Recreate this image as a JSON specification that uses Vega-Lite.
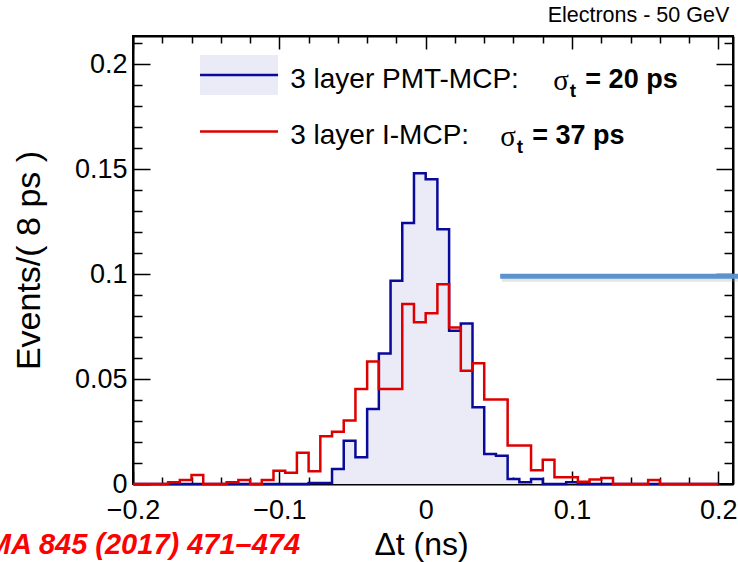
{
  "$schema": "https://vega.github.io/schema/vega-lite/v6.json",
  "width": 600,
  "height": 448,
  "autosize": "none",
  "padding": {"left": 133, "top": 36, "right": 5, "bottom": 78},
  "background": "white",
  "config": {"view": {"stroke": "black", "strokeWidth": 2}, "font": "Liberation Sans"},
  "title": {"text": "Electrons - 50 GeV", "anchor": "end", "fontSize": 21.5, "fontWeight": "normal", "font": "Liberation Sans", "color": "black", "offset": 3, "dx": -15},
  "datasets": {
    "hist": [
      {"s": "PMT", "x": -0.2, "v": 0}, {"s": "PMT", "x": -0.192, "v": 0}, {"s": "PMT", "x": -0.184, "v": 0}, {"s": "PMT", "x": -0.176, "v": 0},
      {"s": "PMT", "x": -0.168, "v": 0}, {"s": "PMT", "x": -0.16, "v": 0}, {"s": "PMT", "x": -0.152, "v": 0}, {"s": "PMT", "x": -0.144, "v": 0},
      {"s": "PMT", "x": -0.136, "v": 0}, {"s": "PMT", "x": -0.128, "v": 0}, {"s": "PMT", "x": -0.12, "v": 0}, {"s": "PMT", "x": -0.112, "v": 0},
      {"s": "PMT", "x": -0.104, "v": 0}, {"s": "PMT", "x": -0.096, "v": 0}, {"s": "PMT", "x": -0.088, "v": 0}, {"s": "PMT", "x": -0.08, "v": 0.0005},
      {"s": "PMT", "x": -0.072, "v": 0.0005}, {"s": "PMT", "x": -0.064, "v": 0.0071}, {"s": "PMT", "x": -0.056, "v": 0.0206}, {"s": "PMT", "x": -0.048, "v": 0.0127},
      {"s": "PMT", "x": -0.04, "v": 0.0357}, {"s": "PMT", "x": -0.032, "v": 0.0622}, {"s": "PMT", "x": -0.024, "v": 0.0968}, {"s": "PMT", "x": -0.016, "v": 0.1243},
      {"s": "PMT", "x": -0.008, "v": 0.148}, {"s": "PMT", "x": 0, "v": 0.1452}, {"s": "PMT", "x": 0.008, "v": 0.1214}, {"s": "PMT", "x": 0.016, "v": 0.073},
      {"s": "PMT", "x": 0.024, "v": 0.0765}, {"s": "PMT", "x": 0.032, "v": 0.0365}, {"s": "PMT", "x": 0.04, "v": 0.0143}, {"s": "PMT", "x": 0.048, "v": 0.0135},
      {"s": "PMT", "x": 0.056, "v": 0.0024}, {"s": "PMT", "x": 0.064, "v": 0.0008}, {"s": "PMT", "x": 0.072, "v": 0.0024}, {"s": "PMT", "x": 0.08, "v": 0},
      {"s": "PMT", "x": 0.088, "v": 0}, {"s": "PMT", "x": 0.096, "v": 0.0008}, {"s": "PMT", "x": 0.104, "v": 0}, {"s": "PMT", "x": 0.112, "v": 0},
      {"s": "PMT", "x": 0.12, "v": 0}, {"s": "PMT", "x": 0.128, "v": 0}, {"s": "PMT", "x": 0.136, "v": 0}, {"s": "PMT", "x": 0.144, "v": 0},
      {"s": "PMT", "x": 0.152, "v": 0}, {"s": "PMT", "x": 0.16, "v": 0}, {"s": "PMT", "x": 0.168, "v": 0}, {"s": "PMT", "x": 0.176, "v": 0},
      {"s": "PMT", "x": 0.184, "v": 0}, {"s": "PMT", "x": 0.192, "v": 0}, {"s": "PMT", "x": 0.2, "v": 0},
      {"s": "IMCP", "x": -0.2, "v": 0}, {"s": "IMCP", "x": -0.192, "v": 0}, {"s": "IMCP", "x": -0.184, "v": 0}, {"s": "IMCP", "x": -0.176, "v": 0.0008},
      {"s": "IMCP", "x": -0.168, "v": 0.0019}, {"s": "IMCP", "x": -0.16, "v": 0.0043}, {"s": "IMCP", "x": -0.152, "v": 0}, {"s": "IMCP", "x": -0.144, "v": 0},
      {"s": "IMCP", "x": -0.136, "v": 0.0008}, {"s": "IMCP", "x": -0.128, "v": 0.0019}, {"s": "IMCP", "x": -0.12, "v": 0}, {"s": "IMCP", "x": -0.112, "v": 0.0019},
      {"s": "IMCP", "x": -0.104, "v": 0.0063}, {"s": "IMCP", "x": -0.096, "v": 0.0054}, {"s": "IMCP", "x": -0.088, "v": 0.0149}, {"s": "IMCP", "x": -0.08, "v": 0.0061},
      {"s": "IMCP", "x": -0.072, "v": 0.0227}, {"s": "IMCP", "x": -0.064, "v": 0.0249}, {"s": "IMCP", "x": -0.056, "v": 0.0302}, {"s": "IMCP", "x": -0.048, "v": 0.0452},
      {"s": "IMCP", "x": -0.04, "v": 0.0584}, {"s": "IMCP", "x": -0.032, "v": 0.0452}, {"s": "IMCP", "x": -0.024, "v": 0.0452}, {"s": "IMCP", "x": -0.016, "v": 0.0857},
      {"s": "IMCP", "x": -0.008, "v": 0.077}, {"s": "IMCP", "x": 0, "v": 0.0813}, {"s": "IMCP", "x": 0.008, "v": 0.0952}, {"s": "IMCP", "x": 0.016, "v": 0.0746},
      {"s": "IMCP", "x": 0.024, "v": 0.054}, {"s": "IMCP", "x": 0.032, "v": 0.0575}, {"s": "IMCP", "x": 0.04, "v": 0.0402}, {"s": "IMCP", "x": 0.048, "v": 0.0402},
      {"s": "IMCP", "x": 0.056, "v": 0.0183}, {"s": "IMCP", "x": 0.064, "v": 0.0183}, {"s": "IMCP", "x": 0.072, "v": 0.0065}, {"s": "IMCP", "x": 0.08, "v": 0.0116},
      {"s": "IMCP", "x": 0.088, "v": 0.0032}, {"s": "IMCP", "x": 0.096, "v": 0.0032}, {"s": "IMCP", "x": 0.104, "v": 0.0011}, {"s": "IMCP", "x": 0.112, "v": 0.0021},
      {"s": "IMCP", "x": 0.12, "v": 0.0029}, {"s": "IMCP", "x": 0.128, "v": 0}, {"s": "IMCP", "x": 0.136, "v": 0}, {"s": "IMCP", "x": 0.144, "v": 0},
      {"s": "IMCP", "x": 0.152, "v": 0.0019}, {"s": "IMCP", "x": 0.16, "v": 0}, {"s": "IMCP", "x": 0.168, "v": 0}, {"s": "IMCP", "x": 0.176, "v": 0},
      {"s": "IMCP", "x": 0.184, "v": 0}, {"s": "IMCP", "x": 0.192, "v": 0}, {"s": "IMCP", "x": 0.2, "v": 0}
    ]
  },
  "layer": [
    {
      "data": {"name": "hist"},
      "transform": [{"filter": "datum.s == 'PMT'"}],
      "mark": {"type": "area", "interpolate": "step-after", "fill": "#ebebf7"},
      "encoding": {
        "x": {"field": "x", "type": "quantitative",
          "scale": {"domain": [-0.2, 0.21], "nice": false, "zero": false},
          "axis": {"orient": "bottom",
            "values": [-0.2, -0.18, -0.16, -0.14, -0.12, -0.1, -0.08, -0.06, -0.04, -0.02, 0, 0.02, 0.04, 0.06, 0.08, 0.1, 0.12, 0.14, 0.16, 0.18, 0.2],
            "labelExpr": "abs(datum.value*10-round(datum.value*10))<1e-6 ? format(datum.value,'.1~f') : ''",
            "tickSize": {"condition": {"test": "abs(datum.value*10-round(datum.value*10))<1e-6", "value": -13}, "value": -7},
            "tickColor": "black", "tickWidth": 1.5, "domainColor": "black", "domainWidth": 2,
            "labelFontSize": 27, "labelColor": "black", "labelPadding": 26, "labelFont": "Liberation Sans",
            "labelOverlap": false, "labelFlush": false, "grid": false,
            "title": "Δt (ns)", "titleFontSize": 32, "titleFontWeight": "normal", "titleColor": "black", "titleFont": "Liberation Sans", "titlePadding": 0, "titleX": 288}},
        "y": {"field": "v", "type": "quantitative",
          "scale": {"domain": [0, 0.2134], "nice": false, "zero": true},
          "axis": {"orient": "left",
            "values": [0, 0.01, 0.02, 0.03, 0.04, 0.05, 0.06, 0.07, 0.08, 0.09, 0.1, 0.11, 0.12, 0.13, 0.14, 0.15, 0.16, 0.17, 0.18, 0.19, 0.2, 0.21],
            "labelExpr": "abs(datum.value*20-round(datum.value*20))<1e-6 ? format(datum.value,'~g') : ''",
            "tickSize": {"condition": {"test": "abs(datum.value*20-round(datum.value*20))<1e-6", "value": -17}, "value": -9},
            "tickColor": "black", "tickWidth": 1.5, "domainColor": "black", "domainWidth": 2,
            "labelFontSize": 27, "labelColor": "black", "labelPadding": 23, "labelFont": "Liberation Sans",
            "labelOverlap": false, "labelFlush": false, "grid": false,
            "title": "Events/( 8 ps )", "titleFontSize": 34, "titleFontWeight": "normal", "titleColor": "black", "titleFont": "Liberation Sans", "titlePadding": 28}}
      }
    },
    {
      "data": {"name": "hist"},
      "mark": {"type": "line", "interpolate": "step-after", "strokeWidth": 2.5},
      "encoding": {
        "x": {"field": "x", "type": "quantitative",
          "axis": {"orient": "top", "values": [-0.2, -0.18, -0.16, -0.14, -0.12, -0.1, -0.08, -0.06, -0.04, -0.02, 0, 0.02, 0.04, 0.06, 0.08, 0.1, 0.12, 0.14, 0.16, 0.18, 0.2],
            "labels": false, "title": null, "grid": false,
            "tickSize": {"condition": {"test": "abs(datum.value*10-round(datum.value*10))<1e-6", "value": -13}, "value": -7},
            "tickColor": "black", "tickWidth": 1.5, "domainColor": "black", "domainWidth": 2}},
        "y": {"field": "v", "type": "quantitative",
          "axis": {"orient": "right", "values": [0, 0.01, 0.02, 0.03, 0.04, 0.05, 0.06, 0.07, 0.08, 0.09, 0.1, 0.11, 0.12, 0.13, 0.14, 0.15, 0.16, 0.17, 0.18, 0.19, 0.2, 0.21],
            "labels": false, "title": null, "grid": false,
            "tickSize": {"condition": {"test": "abs(datum.value*20-round(datum.value*20))<1e-6", "value": -17}, "value": -9},
            "tickColor": "black", "tickWidth": 1.5, "domainColor": "black", "domainWidth": 2}},
        "color": {"field": "s", "type": "nominal", "scale": {"domain": ["PMT", "IMCP"], "range": ["#0a0a9a", "#dd0000"]}, "legend": null},
        "order": {"field": "x"},
        "detail": {"field": "s"}
      }
    },
    {
      "data": {"values": [{}]},
      "mark": {"type": "rect", "fill": "#ebebf7"},
      "encoding": {"x": {"datum": -0.1542, "axis": null}, "x2": {"datum": -0.1009}, "y": {"datum": 0.2043, "axis": null}, "y2": {"datum": 0.1853}}
    },
    {
      "data": {"values": [{}]},
      "mark": {"type": "rule", "stroke": "#0a0a9a", "strokeWidth": 2.5},
      "encoding": {"x": {"datum": -0.1542, "axis": null}, "x2": {"datum": -0.1009}, "y": {"datum": 0.1948, "axis": null}}
    },
    {
      "data": {"values": [{}]},
      "mark": {"type": "rule", "stroke": "#dd0000", "strokeWidth": 2.5},
      "encoding": {"x": {"datum": -0.1542, "axis": null}, "x2": {"datum": -0.1009}, "y": {"datum": 0.1679, "axis": null}}
    },
    {
      "data": {"values": [{}]},
      "mark": {"type": "text", "align": "left", "baseline": "middle", "fontSize": 28, "font": "Liberation Sans", "color": "black", "text": "3 layer PMT-MCP:"},
      "encoding": {"x": {"datum": -0.0926, "axis": null}, "y": {"datum": 0.1924, "axis": null}}
    },
    {
      "data": {"values": [{}]},
      "mark": {"type": "text", "align": "left", "baseline": "middle", "fontSize": 29, "font": "Liberation Serif", "color": "black", "text": "σ"},
      "encoding": {"x": {"datum": 0.0872, "axis": null}, "y": {"datum": 0.1918, "axis": null}}
    },
    {
      "data": {"values": [{}]},
      "mark": {"type": "text", "align": "left", "baseline": "middle", "fontSize": 19, "fontWeight": "bold", "font": "Liberation Sans", "color": "black", "text": "t"},
      "encoding": {"x": {"datum": 0.0985, "axis": null}, "y": {"datum": 0.1872, "axis": null}}
    },
    {
      "data": {"values": [{}]},
      "mark": {"type": "text", "align": "left", "baseline": "middle", "fontSize": 27, "fontWeight": "bold", "font": "Liberation Sans", "color": "black", "text": "= 20 ps"},
      "encoding": {"x": {"datum": 0.1091, "axis": null}, "y": {"datum": 0.1924, "axis": null}}
    },
    {
      "data": {"values": [{}]},
      "mark": {"type": "text", "align": "left", "baseline": "middle", "fontSize": 28, "font": "Liberation Sans", "color": "black", "text": "3 layer I-MCP:"},
      "encoding": {"x": {"datum": -0.0926, "axis": null}, "y": {"datum": 0.1657, "axis": null}}
    },
    {
      "data": {"values": [{}]},
      "mark": {"type": "text", "align": "left", "baseline": "middle", "fontSize": 29, "font": "Liberation Serif", "color": "black", "text": "σ"},
      "encoding": {"x": {"datum": 0.0509, "axis": null}, "y": {"datum": 0.1651, "axis": null}}
    },
    {
      "data": {"values": [{}]},
      "mark": {"type": "text", "align": "left", "baseline": "middle", "fontSize": 19, "fontWeight": "bold", "font": "Liberation Sans", "color": "black", "text": "t"},
      "encoding": {"x": {"datum": 0.0622, "axis": null}, "y": {"datum": 0.1605, "axis": null}}
    },
    {
      "data": {"values": [{}]},
      "mark": {"type": "text", "align": "left", "baseline": "middle", "fontSize": 27, "fontWeight": "bold", "font": "Liberation Sans", "color": "black", "text": "= 37 ps"},
      "encoding": {"x": {"datum": 0.0728, "axis": null}, "y": {"datum": 0.1657, "axis": null}}
    },
    {
      "data": {"values": [{}]},
      "mark": {"type": "rule", "stroke": "#999999", "strokeWidth": 5, "opacity": 0.25},
      "encoding": {"x": {"datum": 0.052, "axis": null}, "x2": {"datum": 0.216}, "y": {"datum": 0.0975, "axis": null}}
    },
    {
      "data": {"values": [{}]},
      "mark": {"type": "rule", "stroke": "#5b93cf", "strokeWidth": 5},
      "encoding": {"x": {"datum": 0.0509, "axis": null}, "x2": {"datum": 0.216}, "y": {"datum": 0.0990, "axis": null}}
    },
    {
      "data": {"values": [{}]},
      "mark": {"type": "text", "align": "right", "baseline": "middle", "fontSize": 29, "fontWeight": "bold", "fontStyle": "italic", "font": "Liberation Sans Narrow, Liberation Sans", "color": "#ff0000", "text": "NIMA 845 (2017) 471–474"},
      "encoding": {"x": {"datum": -0.0858, "axis": null}, "y": {"datum": -0.029, "axis": null}}
    }
  ],
  "resolve": {"axis": {"x": "independent", "y": "independent"}}
}
